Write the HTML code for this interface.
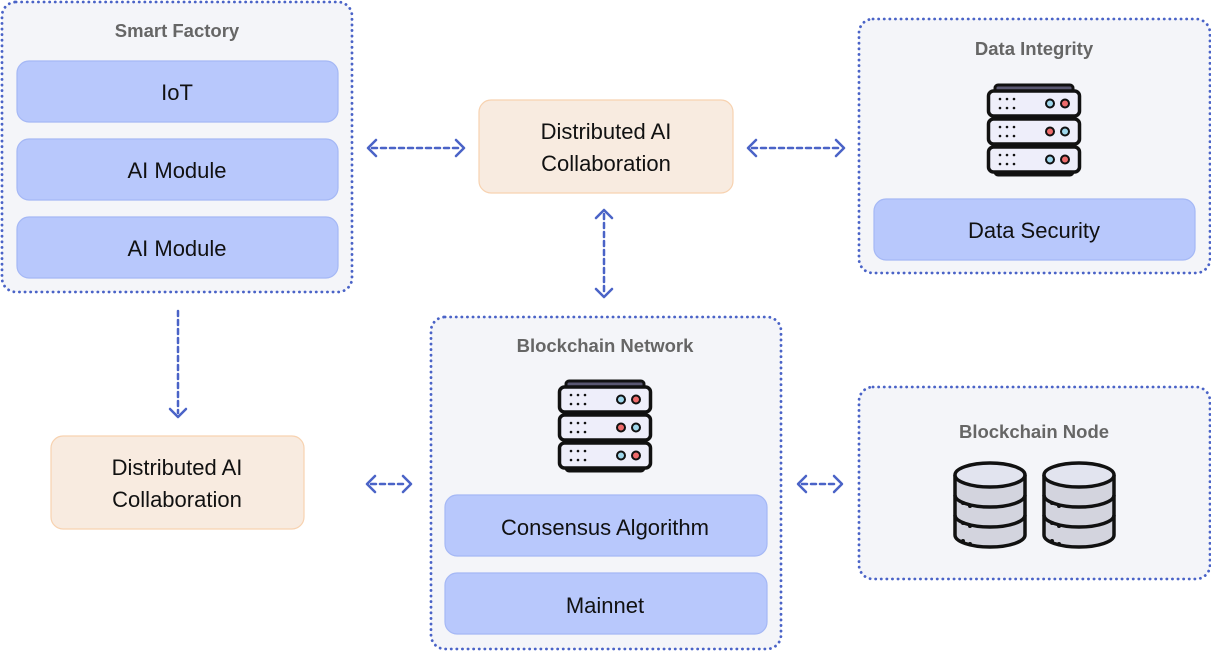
<!DOCTYPE html>
<html><head><meta charset="utf-8"><style>
body{margin:0;background:#fff;}
svg{display:block;font-family:"Liberation Sans",sans-serif;}
</style></head><body>
<svg width="1211" height="651" viewBox="0 0 1211 651" xmlns="http://www.w3.org/2000/svg">
<defs>
<g id="srv">
  <rect x="8" y="0" width="78" height="8" rx="3" fill="#5a5872" stroke="#111" stroke-width="3"/>
  <rect x="8" y="82" width="78" height="8" rx="3" fill="#5a5872" stroke="#111" stroke-width="3"/>
  <g id="row">
    <rect x="1.5" y="6" width="91" height="25" rx="5" fill="#eeeefa" stroke="#111" stroke-width="3.5"/>
    <g fill="#111"><circle cx="13" cy="14" r="1.3"/><circle cx="20" cy="14" r="1.3"/><circle cx="27" cy="14" r="1.3"/><circle cx="13" cy="23" r="1.3"/><circle cx="20" cy="23" r="1.3"/><circle cx="27" cy="23" r="1.3"/></g>
  </g>
</g>
<g id="cyl">
  <path d="M2 14 V74 A35 12 0 0 0 72 74 V14" fill="#d3d4de" stroke="#111" stroke-width="3.5"/>
  <path d="M2 34 A35 12 0 0 0 72 34 M2 54 A35 12 0 0 0 72 54" fill="none" stroke="#111" stroke-width="3.5"/>
  <ellipse cx="37" cy="14" rx="35" ry="12" fill="#e2e4ef" stroke="#111" stroke-width="3.5"/>
  <g fill="#111"><circle cx="10" cy="42" r="2"/><circle cx="17" cy="45" r="2"/><circle cx="10" cy="62" r="2"/><circle cx="17" cy="65" r="2"/><circle cx="10" cy="80" r="2"/><circle cx="17" cy="83" r="2"/></g>
</g>
</defs>

<g fill="#f4f5f9" stroke="#4a63c7" stroke-width="2.8" stroke-dasharray="0.1 5.5" stroke-linecap="round">
<rect x="2" y="2" width="350" height="290" rx="14"/>
<rect x="859" y="19" width="351" height="254" rx="14"/>
<rect x="431" y="317" width="350" height="332" rx="14"/>
<rect x="859" y="387" width="351" height="192" rx="14"/>
</g>

<g fill="#b8c8fc" stroke="#a5b8f5" stroke-width="1.2">
<rect x="17" y="61" width="321" height="61" rx="12"/>
<rect x="17" y="139" width="321" height="61" rx="12"/>
<rect x="17" y="217" width="321" height="61" rx="12"/>
<rect x="874" y="199" width="321" height="61" rx="12"/>
<rect x="445" y="495" width="322" height="61" rx="12"/>
<rect x="445" y="573" width="322" height="61" rx="12"/>
</g>
<g fill="#f8ebe0" stroke="#f7d2b0" stroke-width="1.2">
<rect x="479" y="100" width="254" height="93" rx="12"/>
<rect x="51" y="436" width="253" height="93" rx="12"/>
</g>

<g font-size="18.5" font-weight="bold" fill="#666" text-anchor="middle">
<text x="177" y="37">Smart Factory</text>
<text x="1034" y="55">Data Integrity</text>
<text x="605" y="352">Blockchain Network</text>
<text x="1034" y="438">Blockchain Node</text>
</g>
<g font-size="22" fill="#111" text-anchor="middle">
<text x="177" y="100">IoT</text>
<text x="177" y="178">AI Module</text>
<text x="177" y="256">AI Module</text>
<text x="1034" y="238">Data Security</text>
<text x="605" y="535">Consensus Algorithm</text>
<text x="605" y="613">Mainnet</text>
<text x="606" y="139">Distributed AI</text>
<text x="606" y="171">Collaboration</text>
<text x="177" y="475">Distributed AI</text>
<text x="177" y="507">Collaboration</text>
</g>

<g transform="translate(987,85)">
<use href="#srv"/>
<use href="#row" y="28"/><use href="#row" y="56"/>
<circle cx="63" cy="18.5" r="4" fill="#9fd7ec" stroke="#111" stroke-width="2"/><circle cx="78" cy="18.5" r="4" fill="#ee6b6b" stroke="#111" stroke-width="2"/>
<circle cx="63" cy="46.5" r="4" fill="#ee6b6b" stroke="#111" stroke-width="2"/><circle cx="78" cy="46.5" r="4" fill="#9fd7ec" stroke="#111" stroke-width="2"/>
<circle cx="63" cy="74.5" r="4" fill="#9fd7ec" stroke="#111" stroke-width="2"/><circle cx="78" cy="74.5" r="4" fill="#ee6b6b" stroke="#111" stroke-width="2"/>
</g>
<g transform="translate(558,381)">
<use href="#srv"/>
<use href="#row" y="28"/><use href="#row" y="56"/>
<circle cx="63" cy="18.5" r="4" fill="#9fd7ec" stroke="#111" stroke-width="2"/><circle cx="78" cy="18.5" r="4" fill="#ee6b6b" stroke="#111" stroke-width="2"/>
<circle cx="63" cy="46.5" r="4" fill="#ee6b6b" stroke="#111" stroke-width="2"/><circle cx="78" cy="46.5" r="4" fill="#9fd7ec" stroke="#111" stroke-width="2"/>
<circle cx="63" cy="74.5" r="4" fill="#9fd7ec" stroke="#111" stroke-width="2"/><circle cx="78" cy="74.5" r="4" fill="#ee6b6b" stroke="#111" stroke-width="2"/>
</g>
<use href="#cyl" x="953" y="461"/>
<use href="#cyl" x="1042" y="461"/>

<g stroke="#4a63c7" stroke-width="2.5" fill="none" stroke-linecap="round" stroke-linejoin="round">
<g stroke-dasharray="5 4">
<line x1="372" y1="148" x2="460" y2="148"/>
<line x1="752" y1="148" x2="840" y2="148"/>
<line x1="604" y1="214" x2="604" y2="293"/>
<line x1="178" y1="311" x2="178" y2="413"/>
<line x1="371" y1="484" x2="407" y2="484"/>
<line x1="802" y1="484" x2="838" y2="484"/>
</g>
<path d="M376 140 L368 148 L376 156 M456 140 L464 148 L456 156"/>
<path d="M756 140 L748 148 L756 156 M836 140 L844 148 L836 156"/>
<path d="M596 218 L604 210 L612 218 M596 289 L604 297 L612 289"/>
<path d="M170 409 L178 417 L186 409"/>
<path d="M375 476 L367 484 L375 492 M403 476 L411 484 L403 492"/>
<path d="M806 476 L798 484 L806 492 M834 476 L842 484 L834 492"/>
</g>
</svg>
</body></html>
